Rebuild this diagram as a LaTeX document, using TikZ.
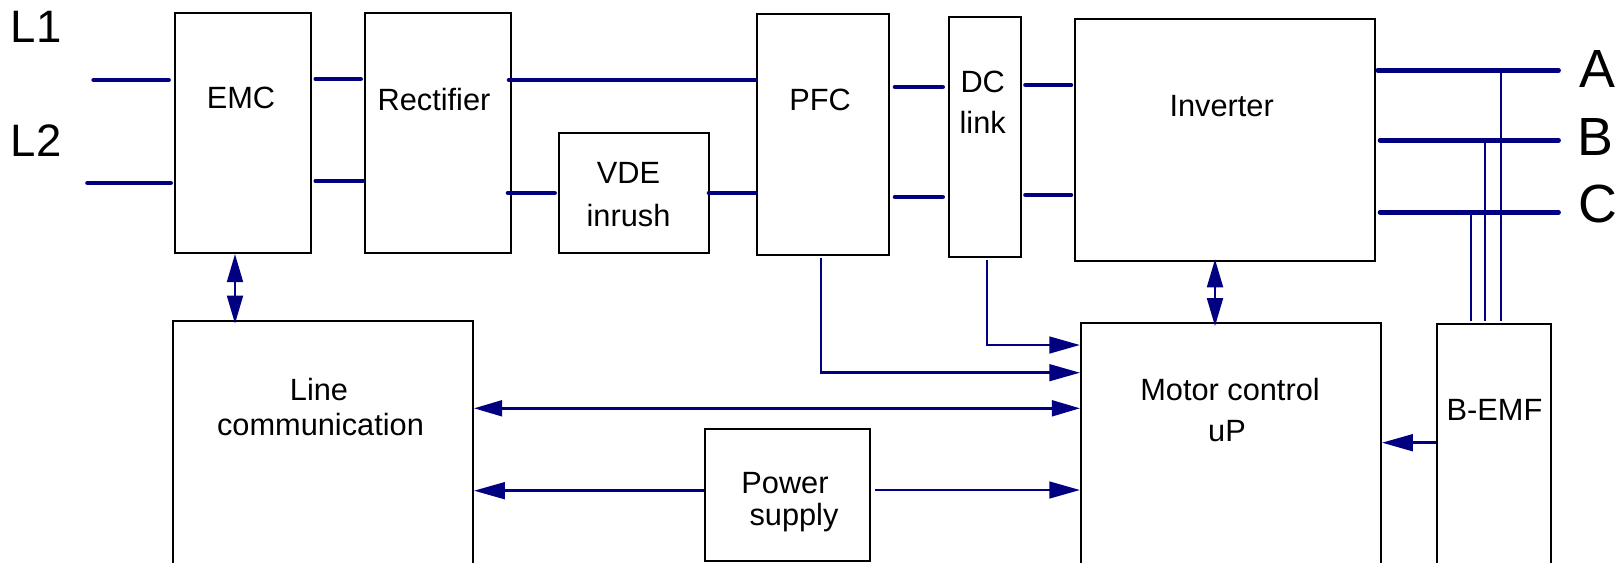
\documentclass[tikz,border=0pt]{standalone}
\usepackage{fontspec}
\setmainfont{Liberation Sans}
\usetikzlibrary{arrows.meta,fit}
\definecolor{navy}{HTML}{000080}
\begin{document}
\begin{tikzpicture}[x=0.02cm,y=-0.02cm,
  box/.style={draw=black,line width=1.15pt,inner sep=0pt},
  lbl/.style={font=\fontsize{17.5}{20}\selectfont,inner sep=0pt,anchor=base},
  lname/.style={font=\fontsize{25.9}{30}\selectfont,inner sep=0pt,anchor=base west},
  phname/.style={font=\fontsize{30.6}{34}\selectfont,inner sep=0pt,anchor=base west},
  bus/.style={draw=navy,line width=2.6pt,line cap=round},
  sig/.style={draw=navy,line width=1.45pt},
  arr/.style={-{Triangle[length=17.5pt,width=9.5pt]}},
  darr/.style={{Triangle[length=16pt,width=9pt]}-{Triangle[length=16pt,width=9pt]}}
]
\useasboundingbox (0,0) rectangle (1623,562);
\clip (0,0) rectangle (1623,562);

% boxes
\node[box, fit={(174.6,13) (311.4,253)}] (emc) {};
\node[box, fit={(364.6,13) (511.4,253)}] (rect) {};
\node[box, fit={(558.6,133) (709,253)}] (vde) {};
\node[box, fit={(756.7,14) (889,255)}] (pfc) {};
\node[box, fit={(948.8,17) (1021,257)}] (dcl) {};
\node[box, fit={(1074.8,18.7) (1375,260.7)}] (inv) {};
\node[box, fit={(173,320.7) (473,580)}] (lc) {};
\node[box, fit={(704.6,429) (869.7,560.7)}] (ps) {};
\node[box, fit={(1081,322.7) (1381,580)}] (mc) {};
\node[box, fit={(1436.7,324.3) (1551,580)}] (be) {};

% labels
\node[lbl] (emct) at (241,108) {EMC};
\node[lbl] (rectt) at (434,110) {Rectifier};
\node[lbl] (vdet1) at (628.5,183.3) {VDE};
\node[lbl] (vdet2) at (628.5,226) {inrush};
\node[lbl] (pfct) at (820,110) {PFC};
\node[lbl] (dct1) at (982.7,92.7) {DC};
\node[lbl] (dct2) at (982.7,133.3) {link};
\node[lbl] (invt) at (1221.7,116) {Inverter};
\node[lbl] (lct1) at (319,400) {Line};
\node[lbl] (lct2) at (320.5,435) {communication};
\node[lbl] (mct1) at (1230,400) {Motor control};
\node[lbl] (mct2) at (1227,441.7) {uP};
\node[lbl] (pst1) at (785,493) {Power};
\node[lbl] (pst2) at (794,525) {supply};
\node[lbl] (bet) at (1494.5,420) {B-EMF};
\node[lname] (l1) at (10.5,42.7) {L1};
\node[lname] (l2) at (10.5,156.7) {L2};
\node[phname] (pa) at (1579,87.3) {A};
\node[phname] (pb) at (1577,155) {B};
\node[phname] (pc) at (1578,222) {C};

% power path stubs
\coordinate (l1a) at (93.6,80);   \coordinate (l1b) at (168.6,80);
\coordinate (l2a) at (87.5,183);  \coordinate (l2b) at (170.7,183);
\coordinate (er1a) at (315.7,79); \coordinate (er1b) at (360.7,79);
\coordinate (er2a) at (315.7,181);\coordinate (er2b) at (363,181);
\coordinate (rp1) at (509,80);
\coordinate (rv1) at (508,193);   \coordinate (rv2) at (554.6,193);
\coordinate (vp1) at (709,193);
\coordinate (pd1a) at (895,87);   \coordinate (pd1b) at (942.7,87);
\coordinate (pd2a) at (895,197);  \coordinate (pd2b) at (942.7,197);
\coordinate (di1a) at (1025.5,85);\coordinate (di1b) at (1071,85);
\coordinate (di2a) at (1025.5,195);\coordinate (di2b) at (1071,195);
\coordinate (oa1) at (1377.8,70.3); \coordinate (oa2) at (1558.6,70.3);
\coordinate (ob1) at (1380,140.3);  \coordinate (ob2) at (1558.6,140.3);
\coordinate (oc1) at (1380,212.3);  \coordinate (oc2) at (1558.6,212.3);

\draw[bus] (l1a) -- (l1b);
\draw[bus] (l2a) -- (l2b);
\draw[bus] (er1a) -- (er1b);
\draw[bus] (er2a) -- (er2b);
\draw[bus] (rp1) -- (rp1 -| pfc.west);
\draw[bus] (rv1) -- (rv2);
\draw[bus] (vp1) -- (vp1 -| pfc.west);
\draw[bus] (pd1a) -- (pd1b);
\draw[bus] (pd2a) -- (pd2b);
\draw[bus] (di1a) -- (di1b);
\draw[bus] (di2a) -- (di2b);
\draw[bus] (oa1) -- (oa2);
\draw[bus] (ob1) -- (ob2);
\draw[bus] (oc1) -- (oc2);

% phase taps to B-EMF
\coordinate (tapend) at (0,321);
\coordinate (ta) at (1501,70.3);
\coordinate (tb) at (1485,140.3);
\coordinate (tc) at (1471,212.3);
\draw[sig] (ta) -- (ta |- tapend);
\draw[sig] (tb) -- (tb |- tapend);
\draw[sig] (tc) -- (tc |- tapend);

% feedback from PFC and DC link
\coordinate (p1) at (821,258); \coordinate (p2) at (821,372.7);
\draw[sig,arr] (p1) -- (p2) -- (p2 -| mc.west);
\coordinate (d1) at (987,260); \coordinate (d2) at (987,345);
\draw[sig,arr] (d1) -- (d2) -- (d2 -| mc.west);

% control connections
\coordinate (c1) at (600,408.3);
\draw[sig,darr] (c1 -| lc.east) -- (c1 -| mc.west);
\coordinate (c2) at (600,490.7);
\draw[sig,arr] (c2 -| ps.west) -- (c2 -| lc.east);
\coordinate (c3) at (875,490);
\draw[sig,arr] (c3) -- (c3 -| mc.west);
\coordinate (c4) at (1400,442.7);
\draw[sig,arr] (c4 -| be.west) -- (c4 -| mc.east);
\coordinate (c5) at (235,0);
\draw[sig,darr] (c5 |- emc.south) -- ([yshift=-0.08cm]c5 |- lc.north);
\coordinate (c6) at (1215,0);
\draw[sig,darr] ([yshift=0.05cm]c6 |- inv.south) -- ([yshift=-0.09cm]c6 |- mc.north);
\end{tikzpicture}
\end{document}
